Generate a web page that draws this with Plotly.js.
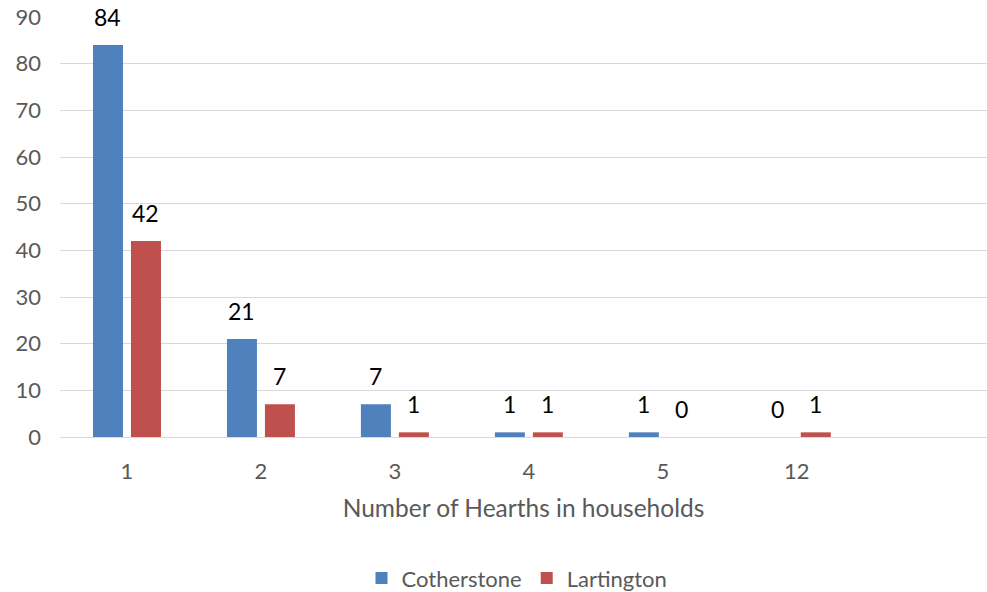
<!DOCTYPE html>
<html>
<head>
<meta charset="utf-8">
<script src="https://cdn.plot.ly/plotly-3.0.1.min.js"></script>
<style>html,body{margin:0;padding:0;background:#fff;}#chart{width:987px;height:592px;}</style>
</head>
<body>
<div id="chart"></div>
<script>
const categories = ["1", "2", "3", "4", "5", "12"];
const cotherstone = [84, 21, 7, 1, 1, 0];
const lartington = [42, 7, 1, 1, 0, 1];
const seriesNames = ["Cotherstone", "Lartington"];
const xTitle = "Number of Hearths in households";

const FONT = "Lato, 'Open Sans', sans-serif";
const colors = ["#4F81BD", "#C0504D"];

const traces = [cotherstone, lartington].map((vals, i) => ({
  type: "bar",
  name: seriesNames[i],
  x: categories,
  y: vals,
  marker: {color: colors[i]},
  hoverinfo: "x+y+name"
}));

const annotations = [];
[cotherstone, lartington].forEach((vals, i) => {
  vals.forEach((v, j) => {
    annotations.push({
      x: j, y: v, xref: "x", yref: "y",
      text: String(v), showarrow: false,
      xshift: i === 0 ? -19 : 19, yshift: 28,
      yanchor: "middle", xanchor: "center",
      font: {family: FONT, size: 23, color: "#000"}
    });
  });
});

const layout = {
  width: 987, height: 592,
  margin: {l: 60, r: 0, t: 17, b: 155, autoexpand: false},
  paper_bgcolor: "#fff", plot_bgcolor: "#fff",
  barmode: "group", bargap: 0.433, bargroupgap: 0.21,
  font: {family: FONT, color: "#595959"},
  xaxis: {
    type: "category",
    range: [-0.5, 6.42],
    showgrid: false, zeroline: false, showline: false,
    ticks: "", ticklabelstandoff: 19, tickfont: {size: 22, color: "#595959"},
    title: {text: xTitle, font: {size: 24.5, color: "#595959"}, standoff: 16},
    automargin: false
  },
  yaxis: {
    range: [0, 90], dtick: 10,
    showgrid: true, gridcolor: "#d9d9d9", gridwidth: 1.3,
    zeroline: true, zerolinecolor: "#d9d9d9", zerolinewidth: 1.3,
    showline: false, ticks: "", ticklabelstandoff: 18,
    tickfont: {size: 22, color: "#595959"},
    automargin: false
  },
  legend: {
    orientation: "h", x: 0.493, xanchor: "center", y: -0.336, yanchor: "middle",
    font: {size: 22, color: "#595959"}, itemwidth: 30, traceorder: "normal"
  },
  annotations: annotations,
  showlegend: true
};

Plotly.newPlot("chart", traces, layout, {displayModeBar: false});
</script>
</body>
</html>
